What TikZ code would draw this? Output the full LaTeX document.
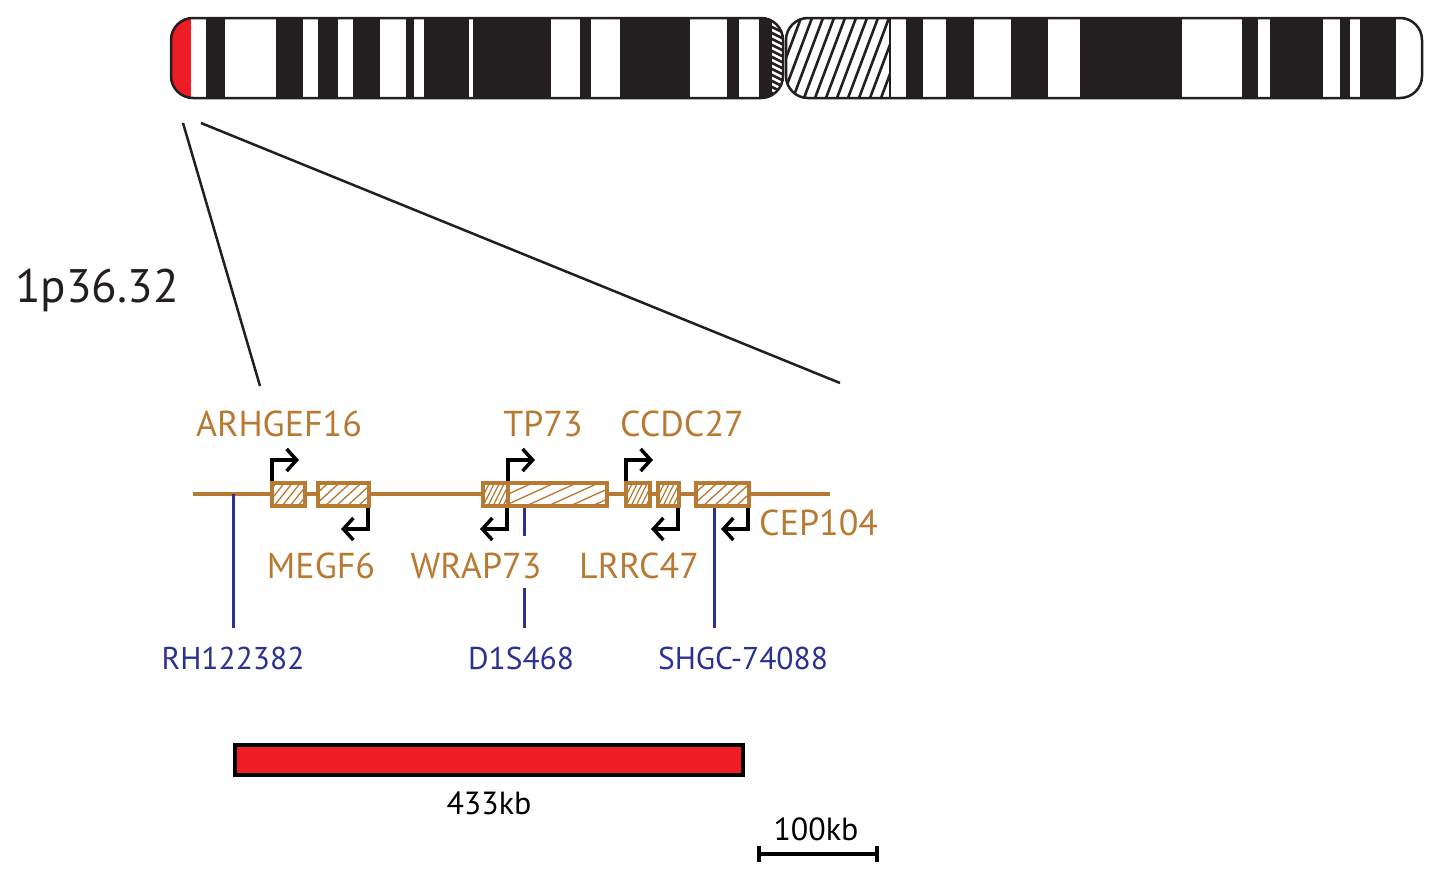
\documentclass[tikz,border=0pt]{standalone}
\usepackage{fontspec}
\setmainfont{PT Sans}
\usetikzlibrary{arrows.meta}
\begin{document}
\begin{tikzpicture}[x=1pt,y=-1pt,
  gene/.style={draw=brn,line width=3.5pt},
  glab/.style={text=brn,font=\fontsize{36}{36}\selectfont,inner sep=0pt},
  mlab/.style={text=blu,font=\fontsize{31.5}{32}\selectfont,inner sep=0pt},
  klab/.style={text=black,font=\fontsize{32}{32}\selectfont,inner sep=0pt},
  tss/.style={line width=3.5pt,black,-{Straight Barb[length=10pt,width=22pt,line width=3.5pt]}},
  stsmark/.style={draw=blu,line width=3pt}]
\definecolor{brn}{HTML}{B87A33}
\definecolor{blu}{HTML}{2B3192}
\definecolor{chr}{HTML}{231F20}
\definecolor{rd}{HTML}{EE1C25}
\useasboundingbox (0,0) rectangle (1444,881);
\newcommand{\hatchbox}[6]{%
  \begin{scope}\clip (#1,#2) rectangle (#3,#4);
  \foreach \k in {0,...,40}{\draw[#6,line width=1.3pt] (#1-70+\k*#5,#4) -- ++(#5*3,-30);}
  \end{scope}}
% p arm
\begin{scope}
\clip[rounded corners=22pt] (171,18) rectangle (783,98);
\fill[white] (171,18) rectangle (783,98);
\fill[rd] (171,18) rectangle (191,98);
\foreach \a/\b in {206/225,276/303,318/338,353/380,406/414,424/469,473/551,580/591,620/690,727/739,759/790}
  \fill[chr] (\a,18) rectangle (\b,98);
\fill[white] (772,18) rectangle (783,98);
\begin{scope}\clip (772,18) rectangle (783,98);
\foreach \yy in {14,20,...,104}{\draw[chr,line width=2.5pt] (770,\yy) -- (786,\yy+8);}
\end{scope}
\end{scope}
\draw[chr,line width=2.5pt,rounded corners=22pt] (171,18) rectangle (783,98);
% q arm
\begin{scope}
\clip[rounded corners=22pt] (786,18) rectangle (1422,98);
\fill[white] (786,18) rectangle (1422,98);
\begin{scope}\clip (786,18) rectangle (889,98);
\foreach \xx in {760,771,...,900}{\draw[chr,line width=2.6pt] (\xx,98) -- ++(30,-80);}
\end{scope}
\foreach \a/\b in {889/891,906/923,946/974,1011/1048,1080/1182,1242/1258,1270/1323,1340/1350,1360/1396}
  \fill[chr] (\a,18) rectangle (\b,98);
\end{scope}
\draw[chr,line width=2.5pt,rounded corners=22pt] (786,18) rectangle (1422,98);
% zoom lines
\coordinate (z1) at (183,123); \coordinate (z2) at (260,386);
\coordinate (z3) at (201,123); \coordinate (z4) at (840,383);
\draw[chr,line width=2.5pt] (z1) -- (z2);
\draw[chr,line width=2.5pt] (z3) -- (z4);
\node[font=\fontsize{47}{47}\selectfont,text=chr,inner sep=0pt] (band) at (97,290) {1p36.32};
% gene line
\coordinate (gl) at (193,494); \coordinate (gr) at (830,494);
\draw[brn,line width=3.5pt] (gl) -- (gr);
% blue markers
\coordinate (m1a) at (233,494); \coordinate (m1b) at (233,628);
\coordinate (m2a) at (524,506); \coordinate (m2b) at (524,536);
\coordinate (m2c) at (524,588); \coordinate (m2d) at (524,628);
\coordinate (m3a) at (714,506); \coordinate (m3b) at (714,628);
\draw[stsmark] (m1a)--(m1b); \draw[stsmark] (m2a)--(m2b); \draw[stsmark] (m2c)--(m2d); \draw[stsmark] (m3a)--(m3b);
% boxes
\foreach \a/\b/\s in {272/305/8,318/369/11,483/508/5,508/607/22,626/650/5,658/679/5,696/749/11}{
  \fill[white] (\a,483) rectangle (\b,506);
  \hatchbox{\a}{483}{\b}{506}{\s}{brn}
  \draw[gene] (\a,483) rectangle (\b,506);
}
% TSS arrows
\coordinate (t1) at (272,481); \coordinate (t1e) at (299,460);
\coordinate (t2) at (508,481); \coordinate (t2e) at (535,460);
\coordinate (t3) at (626,481); \coordinate (t3e) at (653,460);
\draw[tss] (t1) |- (t1e); \draw[tss] (t2) |- (t2e); \draw[tss] (t3) |- (t3e);
\coordinate (r1) at (368,508); \coordinate (r1e) at (341,529);
\coordinate (r2) at (507,508); \coordinate (r2e) at (480,529);
\coordinate (r3) at (678,508); \coordinate (r3e) at (651,529);
\coordinate (r4) at (748,508); \coordinate (r4e) at (721,529);
\draw[tss] (r1) |- (r1e); \draw[tss] (r2) |- (r2e); \draw[tss] (r3) |- (r3e); \draw[tss] (r4) |- (r4e);
% labels
\node[glab] (g1) at (279,424) {ARHGEF16};
\node[glab] (g2) at (543,424) {TP73};
\node[glab] (g3) at (682,424) {CCDC27};
\node[glab] (g4) at (321,566) {MEGF6};
\node[glab] (g5) at (476,566) {WRAP73};
\node[glab] (g6) at (639,566) {LRRC47};
\node[glab,anchor=west] (g7) at (759,523) {CEP104};
\node[mlab] (b1) at (233,658) {RH122382};
\node[mlab] (b2) at (521,658) {D1S468};
\node[mlab] (b3) at (743,658) {SHGC-74088};
% deletion bar
\draw[black,line width=3.5pt,fill=rd] (235,745) rectangle (743,775);
\node[klab] (del) at (489,803) {433kb};
\coordinate (s1) at (759,854); \coordinate (s2) at (877,854);
\draw[black,line width=3.5pt] (s1) -- (s2);
\draw[black,line width=3.5pt] (759,846) -- (759,862) (877,846) -- (877,862);
\node[klab] (sc) at (816,829) {100kb};
\end{tikzpicture}
\end{document}
